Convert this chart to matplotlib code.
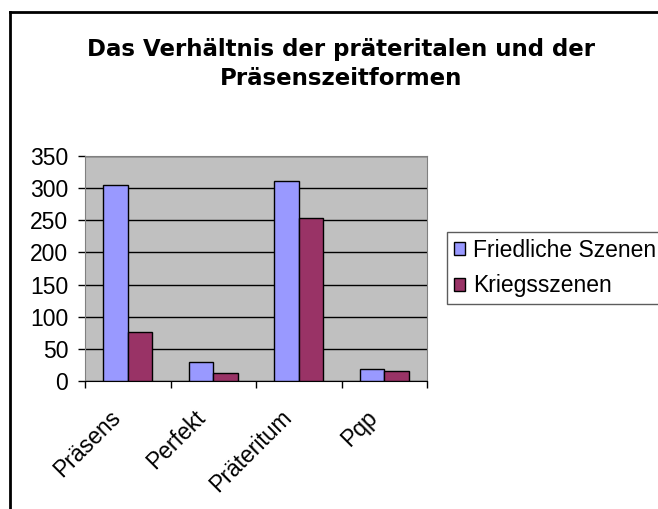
import matplotlib.pyplot as plt
import matplotlib.transforms as mtransforms
import numpy as np

plt.rcParams['font.family'] = ['Liberation Sans', 'DejaVu Sans']

categories = ["Präsens", "Perfekt", "Präteritum", "Pqp"]
friedlich = [305, 30, 311, 18]
krieg = [76, 13, 254, 16]
series_names = ["Friedliche Szenen", "Kriegsszenen"]

fig = plt.figure(figsize=(6.58, 5.09), dpi=100)
ax = fig.add_axes([85/658, 1 - 381/509, 342/658, 225/509])

x = np.arange(len(categories))
w = 0.2857
ax.bar(x - w/2, friedlich, w, color="#9999FF", edgecolor="black", linewidth=1, label=series_names[0], zorder=3)
ax.bar(x + w/2, krieg, w, color="#993366", edgecolor="black", linewidth=1, label=series_names[1], zorder=3)

ax.set_facecolor("#C0C0C0")
ax.set_xlim(-0.5, 3.5)
ax.set_ylim(0, 350)
ax.set_yticks(range(0, 351, 50))
ax.yaxis.grid(True, color="black", linewidth=1, zorder=0)
ax.set_axisbelow(True)
ax.tick_params(axis="y", labelsize=16.5, length=5, width=1, pad=7)

ax.set_xticks(np.arange(-0.5, 4, 1))
ax.set_xticklabels([])
ax.set_xticks(x, minor=True)
ax.set_xticklabels(categories, minor=True, rotation=45, ha="right", va="top",
                   rotation_mode="anchor", fontsize=16.5)
ax.tick_params(axis="x", which="major", length=5, width=1)
ax.tick_params(axis="x", which="minor", length=0, pad=18)
shift = mtransforms.ScaledTranslation(-19/100, 0, fig.dpi_scale_trans)
for lab in ax.get_xticklabels(minor=True):
    lab.set_transform(lab.get_transform() + shift)

for side in ["top", "right", "left"]:
    ax.spines[side].set_color("#808080")
ax.spines["bottom"].set_color("black")

# Titel: breitere Schrift, damit die Breite wie im Original passt
fig.text(341/658, 1 - 64/509, "Das Verhältnis der präteritalen und der\nPräsenszeitformen",
         ha="center", va="center", fontsize=16.5, fontweight="bold", linespacing=1.3,
         family="DejaVu Sans")

leg = fig.legend(loc="upper left", bbox_to_anchor=(447/658, 1 - 232/509), fontsize=16.5,
                 frameon=True, fancybox=False, edgecolor="#333333", handlelength=0.5,
                 handleheight=0.5, handletextpad=0.35, labelspacing=0.55, borderpad=0.3,
                 borderaxespad=0)
leg.get_frame().set_linewidth(1)

# outer chart border (left and top only, rest is cut off)
fig.add_artist(plt.Line2D([10/658, 10/658], [0, 1 - 12/509], color="black", linewidth=2,
                          transform=fig.transFigure))
fig.add_artist(plt.Line2D([10/658, 1], [1 - 12/509, 1 - 12/509], color="black", linewidth=2,
                          transform=fig.transFigure))

fig.savefig("out.png", dpi=100)
